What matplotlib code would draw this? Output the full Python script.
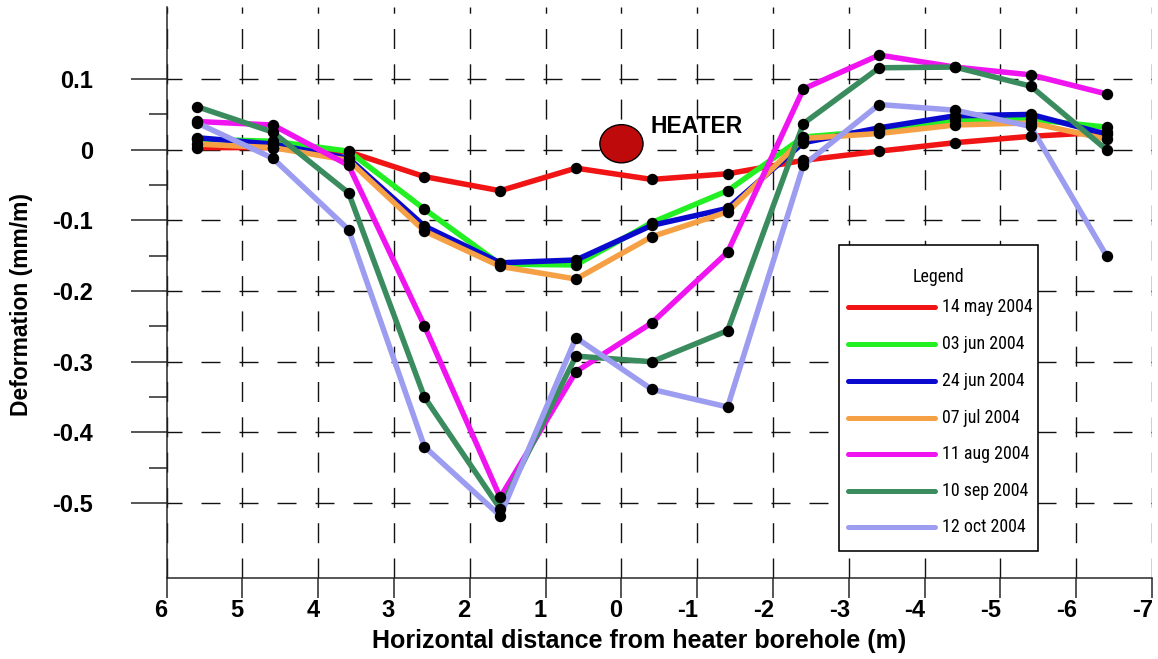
import matplotlib
matplotlib.use("Agg")
import matplotlib.pyplot as plt
from matplotlib import font_manager
from matplotlib.patches import Ellipse, Rectangle
from matplotlib.lines import Line2D
import matplotlib.transforms as mtransforms

# ---------------- data ----------------
x_positions = [5.6, 4.6, 3.6, 2.6, 1.6, 0.6, -0.4, -1.4, -2.4, -3.4, -4.4, -5.4, -6.4]

may14 = [0.003, 0.003, -0.003, -0.038, -0.058, -0.026, -0.042, -0.034, -0.015, -0.002, 0.010, 0.019, 0.025]
jun03 = [0.015, 0.012, -0.002, -0.084, -0.162, -0.163, -0.103, -0.058, 0.018, 0.027, 0.042, 0.043, 0.032]
jun24 = [0.017, 0.008, -0.012, -0.108, -0.160, -0.156, -0.107, -0.083, 0.010, 0.031, 0.048, 0.050, 0.022]
jul07 = [0.008, 0.003, -0.015, -0.115, -0.165, -0.183, -0.123, -0.088, 0.016, 0.023, 0.035, 0.038, 0.015]
aug11 = [0.040, 0.035, -0.022, -0.249, -0.492, -0.314, -0.245, -0.145, 0.086, 0.134, 0.117, 0.106, 0.079]
sep10 = [0.061, 0.025, -0.061, -0.350, -0.508, -0.292, -0.300, -0.256, 0.037, 0.116, 0.117, 0.090, 0.000]
oct12 = [0.038, -0.012, -0.113, -0.420, -0.518, -0.266, -0.339, -0.364, -0.022, 0.064, 0.056, 0.033, -0.150]

series_values = [may14, jun03, jun24, jul07, aug11, sep10, oct12]
series_labels = ["14 may 2004", "03 jun 2004", "24 jun 2004", "07 jul 2004",
                 "11 aug 2004", "10 sep 2004", "12 oct 2004"]
series_colors = ["#F01414", "#22F022", "#0A0ACF", "#F5A045", "#F014F0", "#3A8C5E", "#9C9CF0"]

x_ticks = [6, 5, 4, 3, 2, 1, 0, -1, -2, -3, -4, -5, -6, -7]
x_tick_labels = ["6", "5", "4", "3", "2", "1", "0", "-1", "-2", "-3", "-4", "-5", "-6", "-7"]
y_ticks = [0.1, 0.0, -0.1, -0.2, -0.3, -0.4, -0.5]
y_tick_labels = ["0.1", "0", "-0.1", "-0.2", "-0.3", "-0.4", "-0.5"]
y_minor_ticks = [0.05, -0.05, -0.15, -0.25, -0.35, -0.45]

heater_label = "HEATER"
heater_xy = (0.0, 0.0085)
legend_title = "Legend"
x_label = "Horizontal distance from heater borehole (m)"
y_label = "Deformation (mm/m)"

# ---------------- figure ----------------
W, H = 1158, 659
DPI = 100
PX = 72.0 / DPI  # points per pixel

plt.rcParams["font.family"] = ["Liberation Sans", "DejaVu Sans"]
plt.rcParams["font.weight"] = "bold"

fig = plt.figure(figsize=(W / DPI, H / DPI), dpi=DPI)
ax_left, ax_right, ax_top, ax_bottom = 166.7, 1152.0, 7.0, 578.0
ax = fig.add_axes([ax_left / W, 1 - ax_bottom / H, (ax_right - ax_left) / W, (ax_bottom - ax_top) / H])

ax.set_xlim(6, -7)
ax.set_ylim(-0.606, 0.202)

for vals, col in zip(series_values, series_colors):
    ax.plot(x_positions, vals, color=col, lw=5.5 * PX, solid_capstyle="round",
            solid_joinstyle="round", zorder=3)
for vals in series_values:
    ax.plot(x_positions, vals, linestyle="none", marker="o", ms=10 * PX,
            color="black", zorder=4)

# heater
ax.add_patch(Ellipse(heater_xy, width=0.57, height=0.054, facecolor="#BE0A0A",
                     edgecolor="black", lw=1.0, zorder=5))
ax.text(heater_xy[0] - 0.38, heater_xy[1] + 0.025, heater_label, fontsize=16.5,
        fontweight="bold", ha="left", va="center", zorder=6)

# spines
for s in ["top", "right"]:
    ax.spines[s].set_visible(False)
for s in ["left", "bottom"]:
    ax.spines[s].set_linewidth(1.5 * PX)
    ax.spines[s].set_color("#222222")

# ticks
ax.set_xticks(x_ticks)
ax.set_xticklabels(x_tick_labels)
ax.set_yticks(y_ticks)
ax.set_yticklabels(y_tick_labels)
ax.set_yticks(y_minor_ticks, minor=True)
ax.tick_params(axis="x", which="major", direction="out", length=20 * PX, width=1.5 * PX,
               pad=1, labelsize=17, color="#222222")
ax.tick_params(axis="x", which="minor", length=0)
ax.tick_params(axis="y", which="major", direction="out", length=36 * PX, width=1.5 * PX,
               pad=(166.7 - 36 - 93) * PX, labelsize=17, color="#222222")
ax.tick_params(axis="y", which="minor", direction="out", length=18 * PX, width=1.5 * PX,
               color="#222222")
for lab in ax.get_xticklabels():
    lab.set_horizontalalignment("right")
    lab.set_transform(lab.get_transform() + mtransforms.ScaledTranslation(1 / DPI, 0, fig.dpi_scale_trans))

# grid
ax.set_axisbelow(True)
ax.xaxis.grid(True, which="major", color="#111111", linewidth=1.0,
              linestyle=(0, (20 * PX, 15.3 * PX)))
ax.yaxis.grid(True, which="major", color="#111111", linewidth=1.0,
              linestyle=(4 * PX, (19 * PX, 19 * PX)))

# axis labels
ax.set_xlabel(x_label, fontsize=18, fontweight="bold")
ax.xaxis.set_label_coords((639 - ax_left) / (ax_right - ax_left), (ax_bottom - 648) / (ax_bottom - ax_top))
ax.xaxis.label.set_verticalalignment("baseline")
ax.set_ylabel(y_label, fontsize=16.5, fontweight="bold")
ax.yaxis.set_label_coords((28 - ax_left) / (ax_right - ax_left), (ax_bottom - 305) / (ax_bottom - ax_top))
ax.yaxis.label.set_verticalalignment("baseline")

# ---------------- legend (drawn by hand to match box geometry) ----------------
names = {f.name for f in font_manager.fontManager.ttflist}
legend_family = "DejaVu Sans"
legend_stretch = "condensed"
for cand in ["Liberation Sans Narrow", "Roboto Condensed", "Open Sans Condensed", "DejaVu Sans Condensed"]:
    if cand in names:
        legend_family = cand
        break

def fx(px):
    return px / W

def fy(py):
    return 1 - py / H

box_l, box_r, box_t, box_b = 839, 1038, 245, 551
fig.add_artist(Rectangle((fx(box_l), fy(box_b)), fx(box_r - box_l), (box_b - box_t) / H,
                         transform=fig.transFigure, facecolor="white", edgecolor="black",
                         lw=1.6 * PX, zorder=10))

renderer = fig.canvas.get_renderer()
probe = fig.text(0, 0, series_labels[0], fontsize=14, family=legend_family,
                 stretch=legend_stretch, fontweight="normal")
wpx = probe.get_window_extent(renderer).width
probe.remove()
legend_fs = 14 * 91.0 / wpx

fig.text(fx(938), fy(277), legend_title, fontsize=legend_fs, family=legend_family,
         stretch=legend_stretch, fontweight="normal", ha="center", va="center", zorder=11)
row_y = [307, 344, 381, 418, 454, 491, 527]
for ry, lab, col in zip(row_y, series_labels, series_colors):
    fig.add_artist(Line2D([fx(848), fx(935)], [fy(ry), fy(ry)], transform=fig.transFigure,
                          color=col, lw=5 * PX, solid_capstyle="round", zorder=11))
    fig.text(fx(942), fy(ry), lab, fontsize=legend_fs, family=legend_family,
             stretch=legend_stretch, fontweight="normal", ha="left", va="center", zorder=11)

fig.savefig("out.png", dpi=DPI)
